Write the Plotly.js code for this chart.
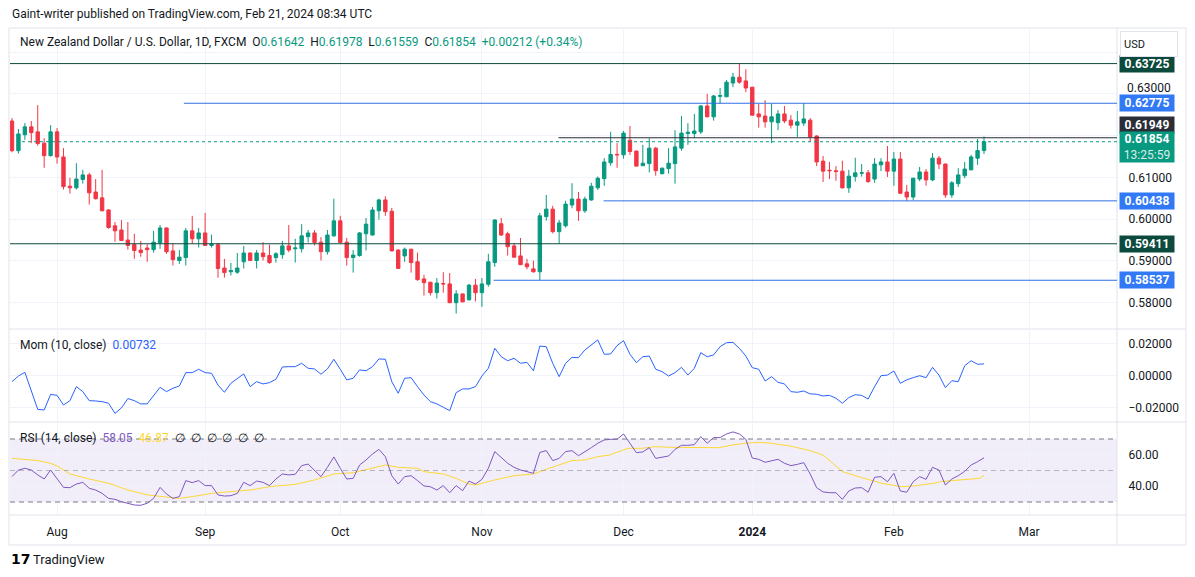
<!DOCTYPE html>
<html><head><meta charset="utf-8">
<script src="https://cdn.plot.ly/plotly-3.0.1.min.js"></script>
<style>html,body{margin:0;padding:0;background:#fff;}#chart{width:1195px;height:577px;}</style>
</head><body><div id="chart"></div>
<script>
// ---- DATA (daily NZD/USD, FXCM) ----
const openP = [
0.6235,0.6164,0.6202,0.6221,0.6209,0.6182,0.6152,0.6209,0.6149,0.6079,
0.6075,0.6095,0.6106,0.6065,0.6051,0.6022,0.5984,0.5974,0.5950,0.5939,
0.5926,0.5931,0.5927,0.5943,0.5979,0.5924,0.5901,0.5908,0.5972,0.5953,
0.5967,0.5937,0.5939,0.5883,0.5874,0.5873,0.5898,0.5919,0.5901,0.5919,
0.5913,0.5908,0.5915,0.5936,0.5929,0.5929,0.5958,0.5967,0.5945,0.5922,
0.5960,0.5996,0.5945,0.5908,0.5913,0.5965,0.5962,0.6020,0.6046,0.6019,
0.5926,0.5912,0.5928,0.5898,0.5857,0.5849,0.5824,0.5846,0.5845,0.5800,
0.5821,0.5807,0.5842,0.5824,0.5844,0.5896,0.5989,0.5965,0.5936,0.5912,
0.5893,0.5881,0.5874,0.6006,0.6024,0.5970,0.5984,0.6034,0.6048,0.6020,
0.6046,0.6075,0.6097,0.6135,0.6155,0.6154,0.6189,0.6163,0.6128,0.6133,
0.6170,0.6109,0.6121,0.6133,0.6170,0.6205,0.6205,0.6209,0.6271,0.6245,
0.6294,0.6293,0.6326,0.6340,0.6331,0.6316,0.6252,0.6247,0.6233,0.6231,
0.6252,0.6237,0.6225,0.6230,0.6237,0.6199,0.6139,0.6117,0.6116,0.6115,
0.6075,0.6102,0.6110,0.6111,0.6096,0.6130,0.6137,0.6115,0.6144,0.6065,
0.6053,0.6096,0.6113,0.6094,0.6146,0.6132,0.6058,0.6085,0.6104,0.6118,
0.6146,0.61642];
const highP = [
0.6242,0.6216,0.6230,0.6235,0.6273,0.6194,0.6225,0.6218,0.6170,0.6099,
0.6134,0.6118,0.6111,0.6096,0.6118,0.6024,0.5993,0.5998,0.5993,0.5965,
0.5948,0.5940,0.5972,0.5986,0.5980,0.5943,0.5926,0.5979,0.6008,0.5979,
0.6015,0.5963,0.5943,0.5905,0.5895,0.5919,0.5936,0.5920,0.5926,0.5945,
0.5939,0.5921,0.5948,0.5986,0.5953,0.5988,0.5974,0.5974,0.5957,0.5974,
0.6049,0.6008,0.5955,0.5926,0.5969,0.6003,0.6029,0.6049,0.6055,0.6027,
0.5928,0.5932,0.5929,0.5920,0.5867,0.5850,0.5859,0.5873,0.5871,0.5830,
0.5822,0.5845,0.5857,0.5859,0.5917,0.6000,0.6003,0.5970,0.5943,0.5955,
0.5905,0.5901,0.6015,0.6058,0.6032,0.5998,0.6044,0.6086,0.6065,0.6054,
0.6087,0.6102,0.6146,0.6209,0.6182,0.6211,0.6223,0.6164,0.6178,0.6194,
0.6173,0.6124,0.6170,0.6213,0.6247,0.6230,0.6252,0.6273,0.6300,0.6297,
0.6314,0.6333,0.6350,0.63725,0.6359,0.6317,0.6276,0.6285,0.6276,0.6261,
0.6271,0.6249,0.6259,0.6278,0.6242,0.6201,0.6151,0.6137,0.6127,0.6140,
0.6118,0.6147,0.6132,0.6118,0.6146,0.6146,0.6175,0.6161,0.6161,0.6082,
0.6099,0.6125,0.6120,0.6158,0.6151,0.6133,0.6091,0.6122,0.6137,0.6154,
0.6192,0.61978];
const lowP = [
0.6160,0.6157,0.6190,0.6182,0.6176,0.6123,0.6150,0.6133,0.6071,0.6061,
0.6071,0.6085,0.6035,0.6047,0.6019,0.5977,0.5946,0.5948,0.5927,0.5905,
0.5910,0.5898,0.5920,0.5929,0.5917,0.5889,0.5893,0.5889,0.5941,0.5932,
0.5936,0.5932,0.5860,0.5860,0.5865,0.5869,0.5882,0.5900,0.5882,0.5901,
0.5893,0.5896,0.5905,0.5921,0.5896,0.5920,0.5944,0.5937,0.5901,0.5915,
0.5958,0.5943,0.5889,0.5872,0.5910,0.5925,0.5961,0.5999,0.6008,0.5923,
0.5881,0.5898,0.5872,0.5853,0.5817,0.5817,0.5810,0.5824,0.5799,0.5774,
0.5801,0.5805,0.5803,0.5790,0.5838,0.5886,0.5960,0.5913,0.5908,0.5890,
0.5880,0.5872,0.58537,0.5996,0.5966,0.59411,0.5980,0.6026,0.5996,0.6015,
0.6044,0.6070,0.6080,0.6128,0.6123,0.6145,0.6154,0.6126,0.6127,0.6112,
0.6104,0.6107,0.6109,0.6085,0.6164,0.6178,0.6194,0.6204,0.6244,0.6236,
0.6277,0.6292,0.6316,0.6324,0.6304,0.6248,0.6219,0.6219,0.6182,0.6213,
0.6230,0.6217,0.6197,0.6223,0.6185,0.6127,0.6089,0.6096,0.6092,0.6073,
0.6063,0.6090,0.6102,0.6087,0.6087,0.6115,0.6101,0.6080,0.6061,0.60438,
0.6046,0.6091,0.6080,0.6091,0.6120,0.6051,0.6051,0.6077,0.6098,0.6117,
0.6130,0.61559];
const closeP = [
0.6164,0.6204,0.6221,0.6207,0.6181,0.6152,0.6209,0.6149,0.6078,0.6075,
0.6096,0.6106,0.6063,0.6049,0.6020,0.5980,0.5972,0.5949,0.5937,0.5925,
0.5920,0.5927,0.5945,0.5979,0.5922,0.5903,0.5909,0.5972,0.5953,0.5967,
0.5937,0.5940,0.5882,0.5872,0.5877,0.5883,0.5919,0.5901,0.5919,0.5910,
0.5896,0.5917,0.5936,0.5926,0.5931,0.5960,0.5967,0.5944,0.5922,0.5962,
0.5996,0.5944,0.5908,0.5914,0.5967,0.5988,0.6022,0.6046,0.6018,0.5924,
0.5882,0.5928,0.5896,0.5855,0.5848,0.5824,0.5847,0.5845,0.5800,0.5821,
0.5802,0.5842,0.5824,0.5845,0.5898,0.5998,0.5962,0.5934,0.5909,0.5891,
0.5886,0.5874,0.6008,0.6024,0.5970,0.5991,0.6036,0.6048,0.6020,0.6048,
0.6079,0.6098,0.6137,0.6155,0.6154,0.6206,0.6162,0.6127,0.6134,0.6170,
0.6116,0.6122,0.6134,0.6173,0.6206,0.6208,0.6211,0.6271,0.6245,0.6295,
0.6296,0.6328,0.6340,0.6328,0.6314,0.6249,0.6245,0.6233,0.6245,0.6252,
0.6235,0.6225,0.6233,0.6240,0.6197,0.6137,0.6115,0.6116,0.6114,0.6075,
0.6103,0.6111,0.6111,0.6090,0.6132,0.6137,0.6115,0.6144,0.6062,0.6053,
0.6098,0.6113,0.6094,0.6146,0.6132,0.6058,0.6087,0.6106,0.6120,0.6149,
0.61642,0.61854];
const momValues = [
-0.0037,-0.0002,0.0021,-0.0095,-0.0209,-0.0213,-0.0116,-0.0122,-0.0182,-0.0155,
-0.0068,-0.0099,-0.0155,-0.0157,-0.0161,-0.0171,-0.0234,-0.0200,-0.0142,-0.0155,
-0.0175,-0.0175,-0.0124,-0.0072,-0.0099,-0.0078,-0.0064,0.0019,0.0019,0.0040,
0.0019,0.0015,-0.0058,-0.0103,-0.0047,-0.0016,0.0011,-0.0068,-0.0037,-0.0051,
-0.0043,-0.0022,0.0054,0.0056,0.0056,0.0077,0.0046,0.0042,0.0009,0.0042,
0.0102,0.0040,-0.0026,-0.0016,0.0036,0.0031,0.0056,0.0104,0.0102,-0.0037,
-0.0109,-0.0016,-0.0012,-0.0068,-0.0120,-0.0161,-0.0175,-0.0196,-0.0217,-0.0105,
-0.0082,-0.0082,-0.0068,-0.0002,0.0046,0.0170,0.0118,0.0093,0.0108,0.0077,
0.0083,0.0031,0.0184,0.0180,0.0077,-0.0006,0.0077,0.0114,0.0112,0.0160,
0.0191,0.0222,0.0133,0.0135,0.0187,0.0218,0.0133,0.0081,0.0118,0.0122,
0.0040,0.0025,-0.0002,0.0019,0.0052,0.0004,0.0046,0.0143,0.0118,0.0129,
0.0180,0.0205,0.0207,0.0170,0.0122,0.0050,0.0040,-0.0033,-0.0006,-0.0041,
-0.0051,-0.0099,-0.0103,-0.0095,-0.0113,-0.0115,-0.0126,-0.0122,-0.0140,-0.0171,
-0.0136,-0.0118,-0.0122,-0.0145,-0.0068,0.0000,0.0004,0.0029,-0.0047,-0.0026,
-0.0012,0.0000,-0.0012,0.0052,0.0004,-0.0074,-0.0031,-0.0037,0.0062,0.0093,
0.0071,0.00732];
const rsiValues = [
46.1,50.3,51.4,50.3,47.2,44.6,50.3,44.4,39.3,39.1,
41.4,42.5,38.7,37.6,35.5,32.3,31.7,30.2,29.2,28.1,
27.9,29.2,32.3,39.3,35.1,32.3,33.4,43.6,42.3,43.6,
40.4,40.4,34.5,33.8,34.0,35.5,42.5,40.4,43.3,42.5,
40.4,44.6,47.8,47.2,47.6,53.1,54.1,50.3,46.1,52.0,
58.6,51.4,44.6,45.0,53.5,56.7,60.5,63.4,58.8,46.7,
41.4,46.1,46.7,43.6,40.2,39.7,37.6,40.4,35.9,40.4,
37.2,43.3,41.4,44.4,51.4,62.0,58.4,54.6,52.0,50.3,
49.3,48.2,61.5,62.6,56.3,57.7,62.0,62.6,59.4,61.8,
64.5,67.3,69.4,69.8,69.8,73.2,67.3,61.3,61.8,64.5,
57.7,58.4,59.2,63.4,66.0,66.0,66.4,71.5,67.3,70.9,
70.9,73.2,74.5,73.2,69.8,57.9,57.1,55.2,56.2,57.1,
54.6,53.1,53.9,55.0,47.8,39.1,36.4,35.9,35.9,31.7,
37.0,38.9,39.1,36.2,45.7,46.1,42.9,48.2,37.0,36.2,
42.9,46.1,44.4,52.0,50.3,40.8,44.6,46.7,49.5,53.5,
55.6,58.05];
const rsiMaBars = [1,3,5,7,8,10,13,16,19,22,25,27,29,32,35,38,41,45,48,51,
54,57,59,61,64,65,68,70,72,73,76,79,82,84,86,88,90,92,93.8,95.8,
96.7,98.9,100.8,103.7,106.7,110.8,112.9,114.9,117,118.9,121.8,125,127,130,133,136.1,139.2,141.2,144.2,145.2,
148.3,151.3,152];
const rsiMaValues = [57.7,57.1,56.3,54.6,52.9,47.8,44.6,41.9,37.6,34.5,33.4,32.3,33.4,35.5,36.6,37.6,39.7,41.2,44.0,47.8,
48.6,51.4,53.5,52.0,51.4,49.3,47.8,45.0,41.4,40.8,44.0,46.7,47.8,50.8,53.5,56.3,56.7,58.8,59.8,62.6,
64.1,64.1,65.1,64.7,64.7,64.5,66.2,67.3,67.9,67.3,65.6,62.6,59.8,49.3,45.5,41.9,39.7,40.2,41.9,42.9,
44.0,45.0,46.87];
const monthTickBars = [8,31,52,74,96,116,138,159];
const monthTickLabels = ['Aug','Sep','Oct','Nov','Dec','<b>2024</b>','Feb','Mar'];
const priceTicks = [0.58,0.59,0.60,0.61,0.62,0.63,0.64];
const priceTickLabels = ['0.58000','0.59000','0.60000','0.61000','','',''];
const crowdedTick = 0.63;
const momTicks = [-0.02,0,0.02];
const momTickLabels = ['\u22120.02000','0.00000','0.02000'];
const rsiTicks = [40,60];
const rsiTickLabels = ['40.00','60.00'];
const levelValues = [0.63725,0.62775,0.61949,0.60438,0.59411,0.58537];
const levelStartBars = [0.69,27.7,85.9,92.9,0.69,75.8];
const rsiBands = [30,50,70];

// ---- STYLE ----
const W = 1195, H = 577;
const px = v => v / W;
const py = v => 1 - v / H;
const FONT = 'Roboto, "Liberation Sans", Arial, sans-serif';
const TXT = '#131722';
const UP = '#089981', DN = '#f23645';
const levelLineColors = ['#0b4a3c','#2f6fe4','#2a2e39','#2f6fe4','#0b4a3c','#2f6fe4'];
const levelLabelColors = ['#0b4a3c','#3179f5','#2a2e39','#3179f5','#0b4a3c','#3179f5'];
const levelLabelShift = [0,0,13,0,0,0];
const xStart = 0.69, xEnd = 172.66;

const bars = closeP.map((_, i) => i + 1);
const last = closeP.length - 1;

const traces = [
  {type:'candlestick', x:bars, open:openP, high:highP, low:lowP, close:closeP,
   xaxis:'x', yaxis:'y', whiskerwidth:0, hoverinfo:'skip',
   increasing:{line:{color:UP,width:1}, fillcolor:UP},
   decreasing:{line:{color:DN,width:1}, fillcolor:DN}},
  {type:'scatter', mode:'lines', x:bars, y:momValues, xaxis:'x', yaxis:'y2',
   line:{color:'#2962ff', width:1}, hoverinfo:'skip'},
  {type:'scatter', mode:'lines', x:rsiMaBars, y:rsiMaValues, xaxis:'x', yaxis:'y3',
   line:{color:'#fdd835', width:1}, hoverinfo:'skip'},
  {type:'scatter', mode:'lines', x:bars, y:rsiValues, xaxis:'x', yaxis:'y3',
   line:{color:'#7e57c2', width:1}, hoverinfo:'skip'}
];

const shapes = [];
shapes.push({type:'rect', xref:'paper', yref:'paper', x0:px(9), x1:px(1186), y0:py(545), y1:py(28),
  line:{color:'#e0e3eb', width:1}, fillcolor:'rgba(0,0,0,0)', layer:'below'});
[329, 422, 515].forEach(y => shapes.push({type:'line', xref:'paper', yref:'paper',
  x0:px(9), x1:px(1186), y0:py(y), y1:py(y), line:{color:'#e0e3eb', width:1}}));
shapes.push({type:'line', xref:'paper', yref:'paper', x0:px(1117), x1:px(1117), y0:py(545), y1:py(28),
  line:{color:'#e0e3eb', width:1}});
shapes.push({type:'rect', xref:'x', yref:'y3', x0:xStart, x1:xEnd, y0:rsiBands[0], y1:rsiBands[2],
  fillcolor:'rgba(126,87,194,0.1)', line:{width:0}, layer:'below'});
rsiBands.forEach((b, i) => shapes.push({type:'line', xref:'x', yref:'y3', x0:xStart, x1:xEnd, y0:b, y1:b,
  line:{color: i === 1 ? 'rgba(120,123,134,0.5)' : '#787b86', width:1, dash:'5px,4px'}}));
levelValues.forEach((v, i) => shapes.push({type:'line', xref:'x', yref:'y', x0:levelStartBars[i], x1:xEnd,
  y0:v, y1:v, line:{color:levelLineColors[i], width:1}}));
shapes.push({type:'line', xref:'x', yref:'y', x0:2.55, x1:xEnd, y0:closeP[last], y1:closeP[last],
  line:{color:UP, width:1, dash:'dot'}});

const ann = [];
ann.push({xref:'paper', yref:'paper', x:px(10), y:py(14), xanchor:'left', yanchor:'middle', showarrow:false,
  text:'Gaint-writer published on TradingView.com, Feb 21, 2024 08:34 UTC', font:{family:FONT, size:12, color:TXT}});
const g = s => '<span style="color:' + UP + '">' + s + '</span>';
const chg = closeP[last] - closeP[last-1];
const pct = chg / closeP[last-1] * 100;
const sp = '\u00a0\u00a0';
ann.push({xref:'paper', yref:'paper', x:px(18), y:py(42), xanchor:'left', yanchor:'middle', showarrow:false,
  text:'New Zealand Dollar / U.S. Dollar, 1D, FXCM' + sp + 'O' + g(openP[last].toFixed(5)) + sp + 'H' + g(highP[last].toFixed(5)) +
    sp + 'L' + g(lowP[last].toFixed(5)) + sp + 'C' + g(closeP[last].toFixed(5)) + sp +
    g('+' + chg.toFixed(5) + ' (+' + pct.toFixed(2) + '%)'),
  font:{family:FONT, size:12, color:TXT}});
ann.push({xref:'paper', yref:'paper', x:px(18), y:py(345), xanchor:'left', yanchor:'middle', showarrow:false,
  text:'Mom (10, close)' + sp + '<span style="color:#2962ff">' + momValues[last].toFixed(5) + '</span>',
  font:{family:FONT, size:12, color:TXT}});
ann.push({xref:'paper', yref:'paper', x:px(18), y:py(438), xanchor:'left', yanchor:'middle', showarrow:false,
  text:'RSI (14, close)' + sp + '<span style="color:#7e57c2">' + rsiValues[last].toFixed(2) + '</span>' + sp +
    '<span style="color:#fdd835">' + rsiMaValues[rsiMaValues.length-1].toFixed(2) + '</span>' + sp +
    '\u2205' + sp + '\u2205' + sp + '\u2205' + sp + '\u2205' + sp + '\u2205' + sp + '\u2205',
  font:{family:FONT, size:12, color:TXT}});
// crowded price-scale tick drawn as text nudged above the 0.62775 label
ann.push({xref:'paper', yref:'y', x:px(1125), y:crowdedTick, xanchor:'left', yanchor:'middle', yshift:6,
  showarrow:false, text:crowdedTick.toFixed(5), font:{family:FONT, size:12, color:TXT}});
levelValues.forEach((v, i) => ann.push({xref:'paper', yref:'y', x:px(1119), y:v, xanchor:'left', yanchor:'middle',
  yshift:levelLabelShift[i], showarrow:false, text:'<b>' + v.toFixed(5) + '</b>', bgcolor:levelLabelColors[i],
  width:52, height:14, borderpad:1, font:{family:FONT, size:12, color:'#ffffff'}}));
ann.push({xref:'paper', yref:'y', x:px(1119), y:closeP[last], xanchor:'left', yanchor:'middle', yshift:-5,
  showarrow:false, text:'<b>' + closeP[last].toFixed(5) + '</b><br><span style="color:rgba(255,255,255,0.85)">13:25:59</span>',
  bgcolor:UP, width:52, height:28, borderpad:1, font:{family:FONT, size:12, color:'#ffffff'}});
ann.push({xref:'paper', yref:'paper', x:px(1120), y:py(31), xanchor:'left', yanchor:'top', showarrow:false,
  text:'USD', align:'left', width:50, height:18, borderpad:3, bgcolor:'#ffffff', bordercolor:'#e0e3eb', borderwidth:1,
  font:{family:FONT, size:11, color:TXT}});
ann.push({xref:'paper', yref:'paper', x:px(9), y:py(559), xanchor:'left', yanchor:'middle', showarrow:false,
  text:'<b>17</b>', font:{family:'"DejaVu Sans", sans-serif', size:14, color:'#000000'}});
ann.push({xref:'paper', yref:'paper', x:px(31), y:py(559), xanchor:'left', yanchor:'middle', showarrow:false,
  text:'TradingView', font:{family:FONT, size:13, color:TXT}});

const axisY = (dom, rng, tv, tt) => ({domain:[py(dom[1]), py(dom[0])], range:rng, side:'right', anchor:'x',
  tickvals:tv, ticktext:tt, showgrid:true, gridcolor:'#f0f3fa', zeroline:false, showline:false,
  ticks:'outside', ticklen:8, tickcolor:'rgba(0,0,0,0)', tickfont:{family:FONT, size:12, color:TXT}, fixedrange:true});

const layout = {
  width:W, height:H, margin:{l:0, r:0, t:0, b:0}, paper_bgcolor:'#ffffff', plot_bgcolor:'#ffffff',
  showlegend:false, font:{family:FONT, color:TXT}, boxgap:0.25,
  xaxis:{domain:[px(10), px(1117)], range:[xStart, xEnd], anchor:'y3', tickvals:monthTickBars, ticktext:monthTickLabels,
    showgrid:true, gridcolor:'#f0f3fa', zeroline:false, showline:false, ticks:'outside', ticklen:6,
    tickcolor:'rgba(0,0,0,0)', tickfont:{family:FONT, size:12, color:TXT}, rangeslider:{visible:false}, fixedrange:true},
  yaxis:axisY([30, 328], [0.57394, 0.64529], priceTicks, priceTickLabels),
  yaxis2:axisY([330, 421], [-0.02813, 0.02838], momTicks, momTickLabels),
  yaxis3:axisY([423, 515], [21.75, 80.16], rsiTicks, rsiTickLabels),
  shapes:shapes, annotations:ann
};
Plotly.newPlot('chart', traces, layout, {staticPlot:true, displayModeBar:false});
</script></body></html>
